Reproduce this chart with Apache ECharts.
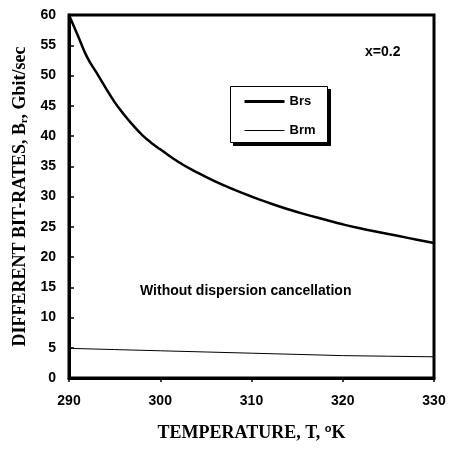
<!DOCTYPE html>
<html><head><meta charset="utf-8">
<script src="https://cdn.jsdelivr.net/npm/echarts@6/dist/echarts.min.js"></script>
<style>html,body{margin:0;padding:0;background:#fff}#c{width:454px;height:450px}</style>
</head><body><div id="c"></div>
<script>
var temps = [290,291,292,293,294,295,296,297,298,299,300,302,304,306,308,310,312,314,316,318,320,322,324,326,328,330];
var brs = [60,56.5,53,50.5,48,45.6,43.6,41.8,40.2,38.9,37.8,35.7,34,32.5,31.2,30,28.9,27.9,27,26.2,25.4,24.7,24.1,23.5,22.9,22.3];
var brmT = [290,295,300,305,310,315,320,325,330];
var brm = [4.9,4.7,4.5,4.3,4.1,3.9,3.7,3.6,3.5];
var yTicks = [0,5,10,15,20,25,30,35,40,45,50,55,60];
var xTicks = [290,300,310,320,330];

var chart = echarts.init(document.getElementById('c'));
var serifBold = {fontFamily:'Liberation Serif', fontWeight:'bold', fontSize:18, color:'#000'};
var noSym = {color:'rgba(0,0,0,0)', borderWidth:0, borderColor:'rgba(0,0,0,0)'};
chart.setOption({
  animation:false,
  grid:{left:69,right:20,top:15,bottom:72,show:true,borderColor:'#000',borderWidth:3},
  legend:{
    data:[{name:'Brs', itemStyle:noSym, lineStyle:{width:3,color:'#000'}},
          {name:'Brm', itemStyle:noSym, lineStyle:{width:1,color:'#000'}}],
    orient:'vertical', left:230, top:90, z:10,
    itemWidth:40, itemHeight:14, itemGap:16,
    padding:[5,8,5,13],
    textStyle:{fontFamily:'Liberation Sans', fontWeight:'bold', fontSize:13, color:'#000'}
  },
  xAxis:{type:'value', min:290, max:330, interval:10,
    name:'TEMPERATURE, T, {sup|o}K', nameLocation:'middle', nameGap:45,
    nameTextStyle:Object.assign({}, serifBold, {rich:{sup:{fontFamily:'Liberation Sans',fontSize:11,verticalAlign:'top',padding:[0,0,9,0],color:'#000'}}}),
    axisLine:{lineStyle:{color:'#000',width:3}},
    axisTick:{show:true, inside:false, length:4, lineStyle:{color:'#000',width:1.5}},
    axisLabel:{fontFamily:'Liberation Sans', fontWeight:'bold', fontSize:14, color:'#000', margin:16,
      formatter:function(v){return xTicks.indexOf(v)>=0?String(v):'';}},
    splitLine:{show:false}
  },
  yAxis:{type:'value', min:0, max:60, interval:5,
    name:'DIFFERENT BIT-RATES, B{sub|r}, Gbit/sec', nameLocation:'middle', nameGap:40,
    nameTextStyle:Object.assign({}, serifBold, {rich:{sub:{fontFamily:'Liberation Serif',fontWeight:'bold',fontSize:10,color:'#000',verticalAlign:'bottom',padding:[7,0,0,0]}}}),
    axisLine:{lineStyle:{color:'#000',width:3}},
    axisTick:{show:true, inside:true, length:5, lineStyle:{color:'#000',width:1.5}},
    axisLabel:{fontFamily:'Liberation Sans', fontWeight:'bold', fontSize:14, color:'#000', margin:13,
      formatter:function(v){return yTicks.indexOf(v)>=0?String(v):'';}},
    splitLine:{show:false}
  },
  series:[
    {name:'Brs', type:'line', smooth:true, symbol:'none', data:temps.map(function(t,i){return [t,brs[i]];}),
      lineStyle:{color:'#000',width:2.5}, itemStyle:{color:'#000'}},
    {name:'Brm', type:'line', symbol:'none', data:brmT.map(function(t,i){return [t,brm[i]];}),
      lineStyle:{color:'#000',width:1}, itemStyle:{color:'#000'}}
  ],
  graphic:[
    {type:'rect', z:5, shape:{x:233, y:89, width:98, height:57}, style:{fill:'#000'}},
    {type:'rect', z:6, shape:{x:230.5, y:86.5, width:97, height:56}, style:{fill:'#fff', stroke:'#000', lineWidth:1}},
    {type:'text', left:365, top:45, style:{text:'x=0.2', font:'bold 14px "Liberation Sans"', fill:'#000'}},
    {type:'text', left:140, top:284, style:{text:'Without dispersion cancellation', font:'bold 14px "Liberation Sans"', fill:'#000'}}
  ]
});
</script></body></html>
